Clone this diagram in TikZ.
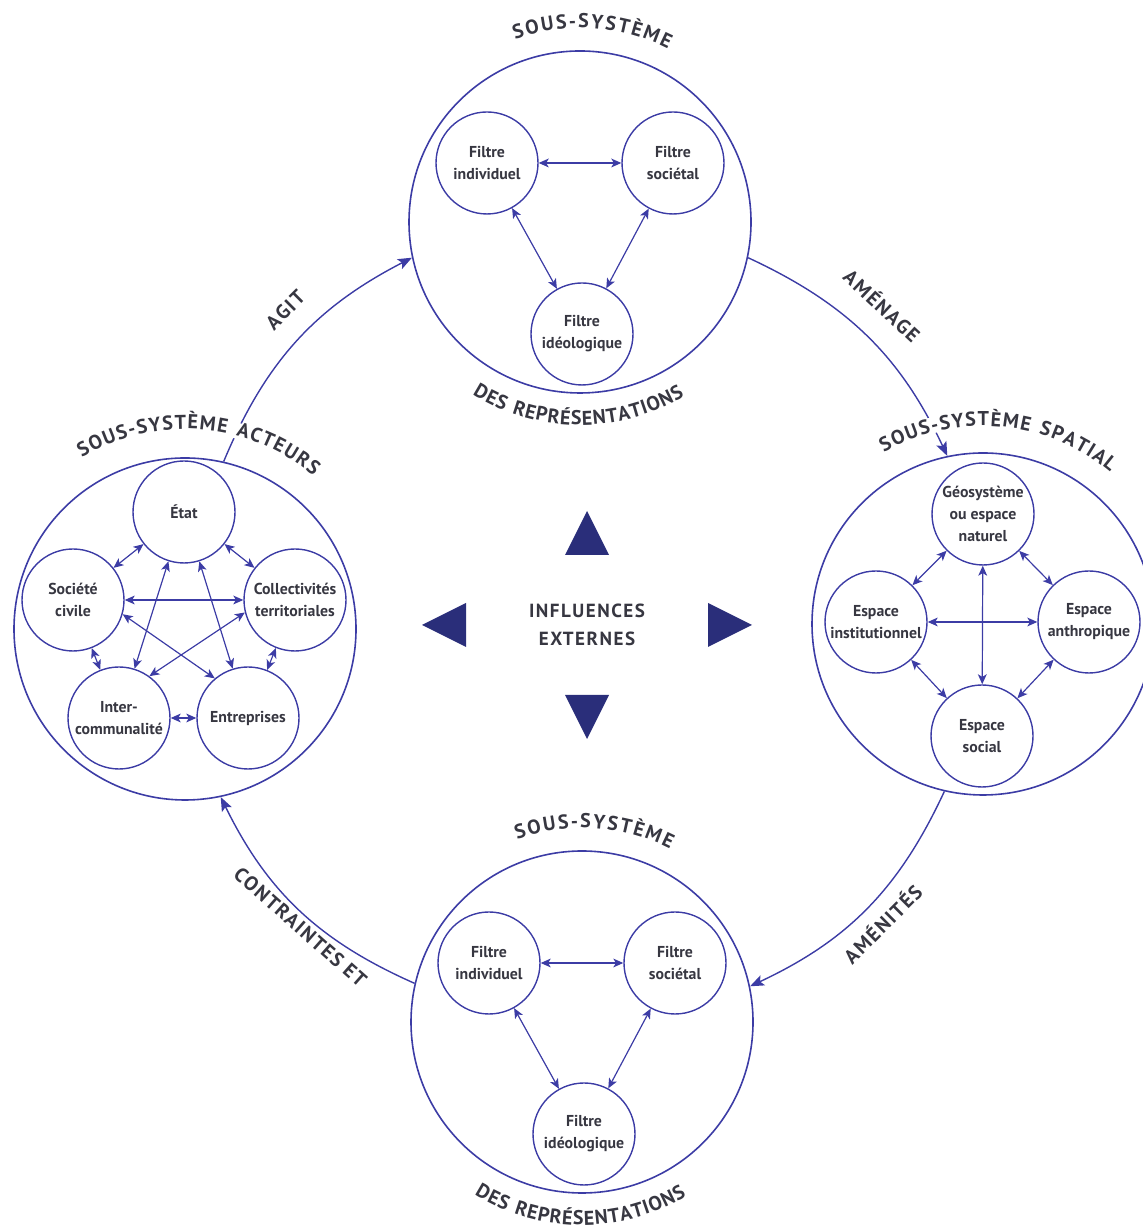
\documentclass[tikz,border=0pt]{standalone}
\usepackage{fontspec}
\setmainfont{PT Sans}
\newfontfamily\etiqfont[LetterSpace=8]{PT Sans}
\usepackage{tikz}
\usetikzlibrary{calc}
\usetikzlibrary{arrows.meta}
\usetikzlibrary{decorations.text}
\definecolor{trait}{RGB}{60,60,165}
\definecolor{fonce}{RGB}{42,46,122}
\definecolor{texte}{RGB}{55,55,65}
\newcommand{\capfont}{\etiqfont\bfseries\fontsize{10}{12}\selectfont}
\tikzset{grand/.style={circle, draw=trait, line width=0.8pt, minimum size=171pt, inner sep=0pt},
petit/.style={circle, draw=trait, line width=0.7pt, minimum size=51pt, inner sep=0pt, align=center, text=texte, font=\bfseries\fontsize{7.9}{11}\selectfont},
lien/.style={trait, line width=0.6pt, {Stealth[length=5pt,width=4.4pt,inset=1.3pt]}-{Stealth[length=5pt,width=4.4pt,inset=1.3pt]}},
fleche/.style={trait, line width=0.7pt, -{Stealth[length=7pt,width=5.5pt,inset=1.5pt]}},
etiq/.style={font=\capfont, text=texte, sloped, inner sep=0pt},
bande/.style={draw=white, line width=8pt}}

\begin{document}
\begin{tikzpicture}[x=0.5pt, y=0.5pt]
\useasboundingbox (0,0) rectangle (1143,1230);
\coordinate (centre) at (587,605);

\node (repH) [grand] at (580,1008) {};
\node (repB) [grand] at (582,208) {};
\node (acteurs) [grand] at (185,601) {};
\node (spatial) [grand] at (983,606) {};

% sous-systemes des representations
\foreach \s in {H,B} {
  \node (ind\s) [petit] at ($(rep\s)+(-93,59)$) {Filtre\\individuel};
  \node (soc\s) [petit] at ($(rep\s)+(93,59)$) {Filtre\\sociétal};
  \node (ideo\s) [petit] at ($(rep\s)+(2,-112)$) {Filtre\\idéologique};
  \draw[lien] (ind\s) -- (soc\s);
  \draw[lien] (ind\s) -- (ideo\s);
  \draw[lien] (soc\s) -- (ideo\s);
  \path[decorate, decoration={text along path, text align={fit to path}, text color=texte,
    text={|\capfont|SOUS-SYSTÈME}}] ($(rep\s)+(109.5:194)$) arc[start angle=109.5, end angle=63, radius=194];
  \path[decorate, decoration={text along path, text align={fit to path}, text color=texte,
    text={|\capfont|DES REPRÉSENTATIONS}}] ($(rep\s)+(238:203)$) arc[start angle=238, end angle=301, radius=203];
}

% acteurs
\node (etat) [petit] at ($(acteurs)+(-1,117)$) {État};
\node (civile) [petit] at ($(acteurs)+(-112,29)$) {Société\\civile};
\node (collect) [petit] at ($(acteurs)+(110,29)$) {Collectivités\\territoriales};
\node (inter) [petit] at ($(acteurs)+(-66,-89)$) {Inter-\\communalité};
\node (entrep) [petit] at ($(acteurs)+(63,-89)$) {Entreprises};
\draw[lien] (etat) -- (civile);
\draw[lien] (etat) -- (collect);
\draw[lien] (etat) -- (inter);
\draw[lien] (etat) -- (entrep);
\draw[lien] (civile) -- (collect);
\draw[lien] (civile) -- (inter);
\draw[lien] (collect) -- (entrep);
\draw[lien] (inter) -- (entrep);
\draw[lien] (civile.-16) -- (entrep.130);
\draw[lien] (collect.194) -- (inter.54);

% spatial
\node (geo) [petit] at ($(spatial)+(0,110)$) {Géosystème\\ou espace\\naturel};
\node (instit) [petit] at ($(spatial)+(-107,2)$) {Espace\\institutionnel};
\node (anthro) [petit] at ($(spatial)+(106,2)$) {Espace\\anthropique};
\node (social) [petit] at ($(spatial)+(-1,-112)$) {Espace\\social};
\draw[lien] (geo) -- (instit);
\draw[lien] (geo) -- (anthro);
\draw[lien] (geo) -- (social);
\draw[lien] (instit) -- (anthro);
\draw[lien] (instit) -- (social);
\draw[lien] (anthro) -- (social);

% boucle entre les sous-systemes
\draw[fleche] (acteurs.77.5) to[bend left=20] node[etiq, above=11pt, pos=0.55] {AGIT} (repH.192.5);
\draw[fleche] (repH.-12.5) to[bend left=20] node[etiq, above=12pt, pos=0.46] {AMÉNAGE} (spatial.102.5);
\draw[fleche] (spatial.257.5) to[bend left=20] node[etiq, below=6pt] {AMÉNITÉS} (repB.12.5);
\draw[fleche] (repB.167.5) to[bend left=20] node[etiq, below=2pt, pos=0.45] {CONTRAINTES ET} (acteurs.282.5);

\path[bande] ($(acteurs)+(121:205)$) arc[start angle=121, end angle=50, radius=205];
\path[bande] ($(spatial)+(120:205)$) arc[start angle=120, end angle=50, radius=205];
\path[decorate, decoration={text along path, text align={fit to path}, text color=texte,
  text={|\capfont|SOUS-SYSTÈME ACTEURS}}] ($(acteurs)+(121:200)$) arc[start angle=121, end angle=50, radius=200];
\path[decorate, decoration={text along path, text align={fit to path}, text color=texte,
  text={|\capfont|SOUS-SYSTÈME SPATIAL}}] ($(spatial)+(120:198)$) arc[start angle=120, end angle=50, radius=198];

% influences externes
\node (influences) [align=center, text=texte, font=\etiqfont\bfseries\fontsize{9.5}{14}\selectfont] at (centre) {INFLUENCES\\EXTERNES};
\begin{scope}[shift={(centre)}]
\foreach \a/\d in {0/121, 90/70, 180/121, 270/70}
  \fill[fonce, rotate=\a] (\d,22) -- (\d+44,0) -- (\d,-22) -- cycle;
\end{scope}
\end{tikzpicture}
\end{document}
